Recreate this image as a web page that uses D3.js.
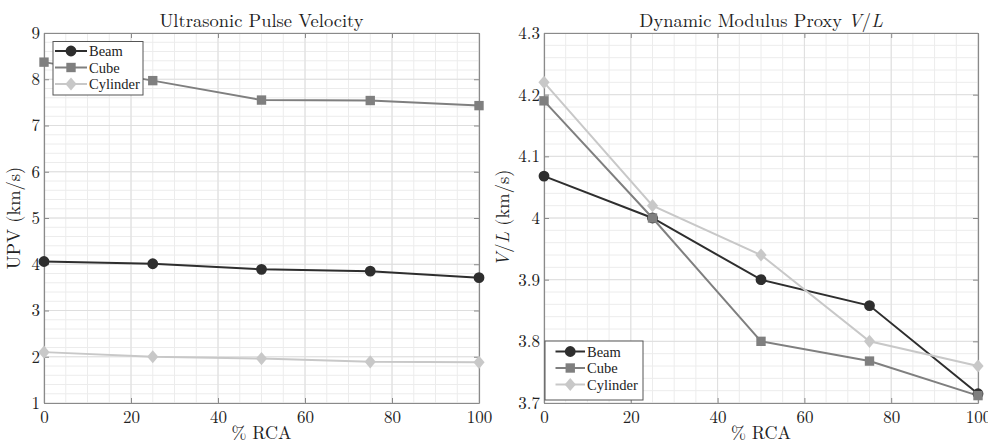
<!DOCTYPE html>
<html><head><meta charset="utf-8">
<script src="https://cdn.jsdelivr.net/npm/d3@7"></script>
<style>body{margin:0;background:#fff}</style>
</head><body><svg id="c" width="988" height="446"></svg>
<script>
const rca = [0, 25, 50, 75, 100];
const seriesNames = ["Beam", "Cube", "Cylinder"];
const upvBeam = [4.06, 4.01, 3.89, 3.85, 3.71];
const upvCube = [8.37, 7.97, 7.55, 7.54, 7.43];
const upvCylinder = [2.10, 2.00, 1.96, 1.89, 1.88];
const vlBeam = [4.068, 4.0, 3.9, 3.858, 3.715];
const vlCube = [4.19, 4.0, 3.8, 3.768, 3.712];
const vlCylinder = [4.22, 4.02, 3.94, 3.80, 3.76];
const xTicks = [0, 20, 40, 60, 80, 100];
const upvTicks = [1, 2, 3, 4, 5, 6, 7, 8, 9];
const vlTicks = [3.7, 3.8, 3.9, 4.0, 4.1, 4.2, 4.3];

const FONT = '"Latin Modern Roman","Liberation Serif","Times New Roman",serif';
const LEGFONT = '"Liberation Serif","Times New Roman",serif';
const colors = ["#2e2e2e", "#7f7f7f", "#c8c8c8"];
const diamond = { draw(ctx, size) { const w = 5.6, h = 6.6; ctx.moveTo(0, -h); ctx.lineTo(w, 0); ctx.lineTo(0, h); ctx.lineTo(-w, 0); ctx.closePath(); } };
const symbols = [d3.symbolCircle, d3.symbolSquare, diamond];
const symSizes = [92, 88, 1];
const svg = d3.select("#c");

function txt(g) { return g.append("text").attr("font-family", FONT).attr("fill", "#222"); }

function panel(o) {
  const g = svg.append("g");
  const x = d3.scaleLinear().domain([0, 100]).range([o.x0, o.x1]);
  const y = d3.scaleLinear().domain(o.ydom).range([o.y1, o.y0]);
  const xm = d3.range(0, 100.001, 5);
  const ym = d3.range(0, Math.round((o.ydom[1]-o.ydom[0])/o.ym)+1).map(i => o.ydom[0] + i*o.ym);
  g.selectAll(".xm").data(xm).join("line").attr("x1", d=>x(d)).attr("x2", d=>x(d)).attr("y1", o.y0).attr("y2", o.y1).attr("stroke", "#ececec").attr("stroke-width", 1);
  g.selectAll(".ym").data(ym).join("line").attr("y1", d=>y(d)).attr("y2", d=>y(d)).attr("x1", o.x0).attr("x2", o.x1).attr("stroke", "#ececec").attr("stroke-width", 1);
  g.selectAll(".xM").data(xTicks).join("line").attr("x1", d=>x(d)).attr("x2", d=>x(d)).attr("y1", o.y0).attr("y2", o.y1).attr("stroke", "#dedede").attr("stroke-width", 1);
  g.selectAll(".yM").data(o.yticks).join("line").attr("y1", d=>y(d)).attr("y2", d=>y(d)).attr("x1", o.x0).attr("x2", o.x1).attr("stroke", "#dedede").attr("stroke-width", 1);
  const ax = d3.axisBottom(x).tickValues(xTicks).tickSizeInner(-5).tickSizeOuter(0).tickPadding(8);
  const ay = d3.axisLeft(y).tickValues(o.yticks).tickFormat(o.fmt).tickSizeInner(-5).tickSizeOuter(0).tickPadding(4);
  const axt = d3.axisTop(x).tickValues(xTicks).tickSizeInner(-5).tickSizeOuter(0).tickFormat("");
  const ayr = d3.axisRight(y).tickValues(o.yticks).tickSizeInner(-5).tickSizeOuter(0).tickFormat("");
  [[ax, `translate(0,${o.y1})`], [axt, `translate(0,${o.y0})`], [ay, `translate(${o.x0},0)`], [ayr, `translate(${o.x1},0)`]].forEach(([a, t]) => {
    const gg = g.append("g").attr("transform", t).call(a).attr("font-family", FONT);
    gg.select(".domain").attr("stroke", "#8a8a8a").attr("stroke-width", 1.2);
    gg.selectAll(".tick line").attr("stroke", "#8a8a8a");
    gg.selectAll("text").attr("font-size", 17).attr("fill", "#222").attr("font-family", FONT);
  });
  o.data.forEach((vals, i) => {
    const pts = rca.map((r, k) => [r, vals[k]]);
    g.append("path").datum(pts).attr("fill", "none").attr("stroke", colors[i]).attr("stroke-width", 2)
      .attr("d", d3.line().x(d=>x(d[0])).y(d=>y(d[1])));
  });
  o.data.forEach((vals, i) => {
    const pts = rca.map((r, k) => [r, vals[k]]);
    g.selectAll(null).data(pts).join("path")
      .attr("transform", d => `translate(${x(d[0])},${y(d[1])})`)
      .attr("d", d3.symbol().type(symbols[i]).size(symSizes[i])).attr("fill", colors[i]);
  });
  const t = txt(g).attr("x", (o.x0+o.x1)/2).attr("y", 27).attr("text-anchor", "middle").attr("font-size", 18.5);
  o.title.forEach(p => t.append("tspan").attr("font-style", p[1] ? "italic" : "normal").text(p[0]));
  txt(g).attr("x", (o.x0+o.x1)/2).attr("y", 439).attr("text-anchor", "middle").attr("font-size", 18).text("% RCA");
  const yl = txt(g).attr("transform", `translate(${o.ylx},${(o.y0+o.y1)/2}) rotate(-90)`).attr("text-anchor", "middle").attr("font-size", 18.5);
  o.ylabel.forEach(p => yl.append("tspan").attr("font-style", p[1] ? "italic" : "normal").text(p[0]));
  const L = o.leg;
  g.append("rect").attr("x", L.x).attr("y", L.y).attr("width", L.w).attr("height", L.h).attr("fill", "#fff").attr("stroke", "#555").attr("stroke-width", 1);
  seriesNames.forEach((n, i) => {
    const cy = L.r0 + i*L.dr;
    g.append("line").attr("x1", L.l0).attr("x2", L.l1).attr("y1", cy).attr("y2", cy).attr("stroke", colors[i]).attr("stroke-width", 2);
    g.append("path").attr("transform", `translate(${(L.l0+L.l1)/2},${cy})`).attr("d", d3.symbol().type(symbols[i]).size(symSizes[i])).attr("fill", colors[i]);
    g.append("text").attr("font-family", LEGFONT).attr("fill", "#222").attr("x", L.l1+2).attr("y", cy+5).attr("font-size", 14.5).text(n);
  });
}

panel({x0: 44, x1: 479, y0: 33, y1: 403, ydom: [1, 9], ym: 0.2, yticks: upvTicks, fmt: d3.format("d"),
  data: [upvBeam, upvCube, upvCylinder], title: [["Ultrasonic Pulse Velocity", false]],
  ylabel: [["UPV (km/s)", false]], ylx: 20,
  leg: {x: 53, y: 41.5, w: 90, h: 53.5, l0: 55, l1: 87, r0: 51, dr: 16.5}});
panel({x0: 544, x1: 978, y0: 33, y1: 403, ydom: [3.7, 4.3], ym: 0.02, yticks: vlTicks, fmt: d => d3.format("")(+d.toFixed(1)),
  data: [vlBeam, vlCube, vlCylinder], title: [["Dynamic Modulus Proxy ", false], ["V", true], ["/", false], ["L", true]],
  ylabel: [["V", true], ["/", false], ["L", true], [" (km/s)", false]], ylx: 509,
  leg: {x: 545, y: 341, w: 98, h: 59, l0: 555.5, l1: 585, r0: 351.5, dr: 16.5}});
</script></body></html>
